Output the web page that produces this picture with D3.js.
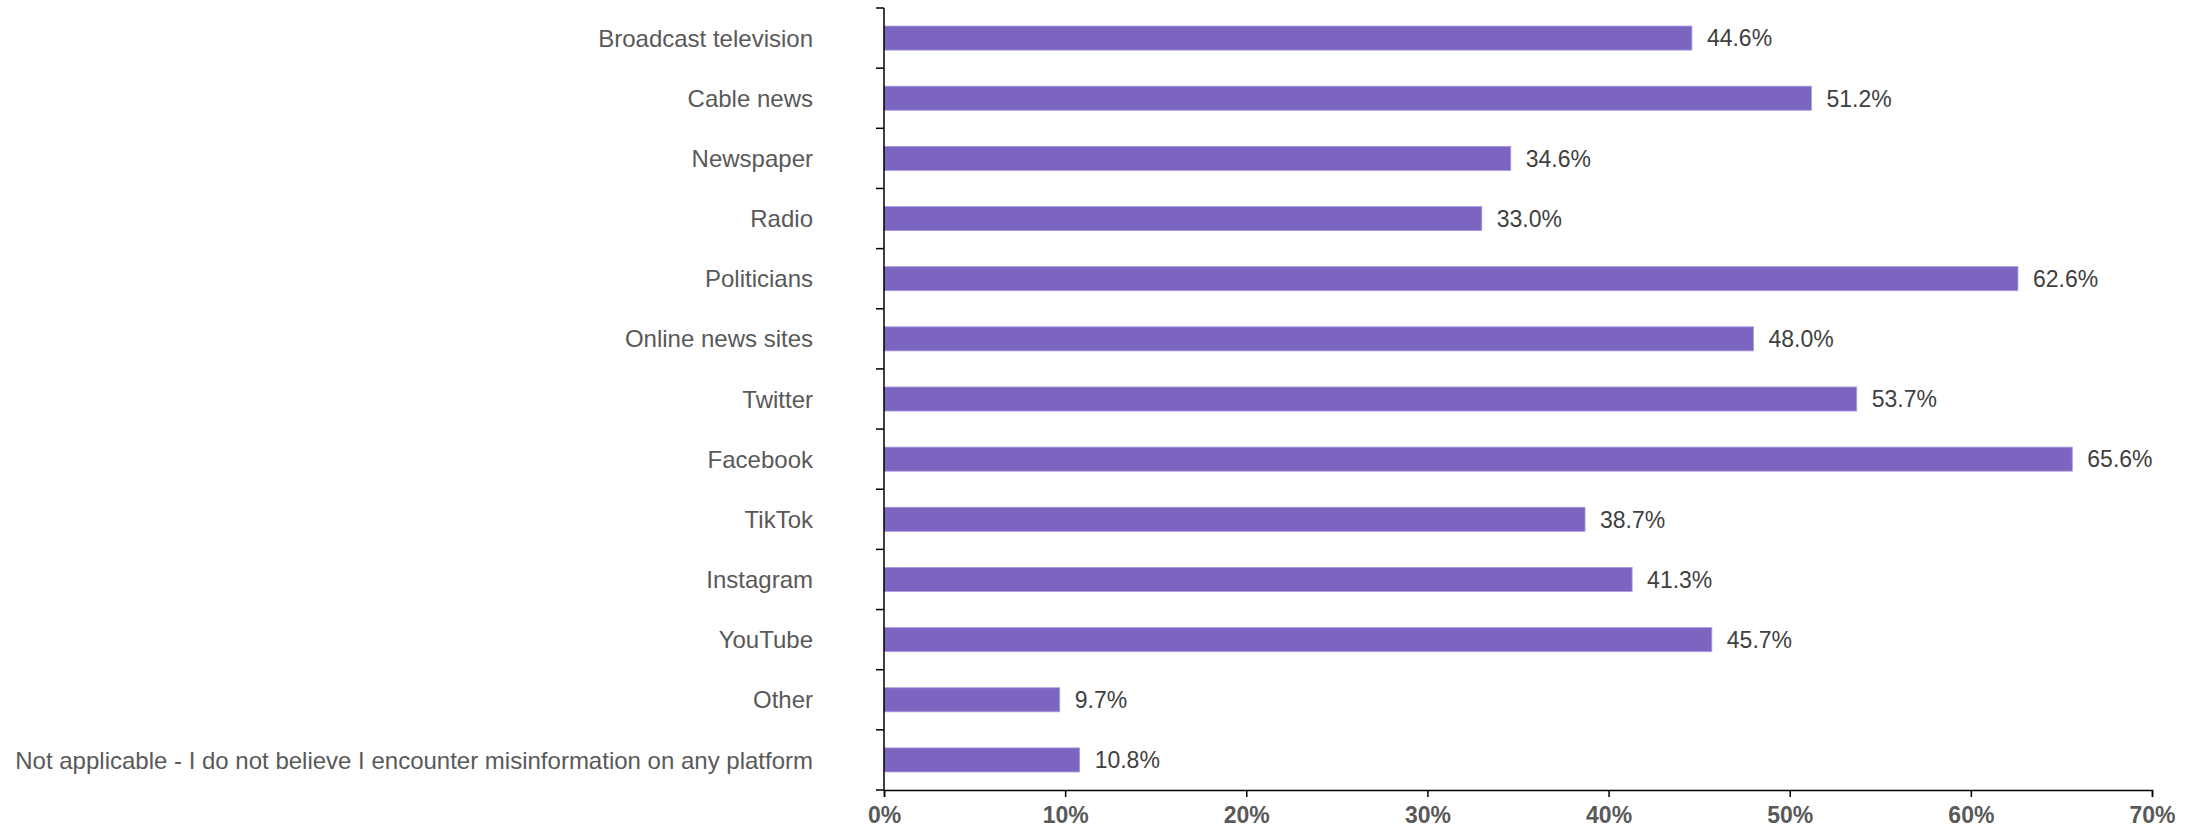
<!DOCTYPE html>
<html><head><meta charset="utf-8">
<script src="https://cdn.jsdelivr.net/npm/d3@7/dist/d3.min.js"></script>
<style>html,body{margin:0;padding:0;background:#fff;}svg{display:block;}</style>
</head><body>
<script>
const categories = ["Broadcast television","Cable news","Newspaper","Radio","Politicians","Online news sites","Twitter","Facebook","TikTok","Instagram","YouTube","Other","Not applicable - I do not believe I encounter misinformation on any platform"];
const values = [44.6,51.2,34.6,33.0,62.6,48.0,53.7,65.6,38.7,41.3,45.7,9.7,10.8];
const xTicks = [0,10,20,30,40,50,60,70];

(function(){
const W = 2198, H = 830;
const mLeft = 884, mRight = 2152, mTop = 8, mBottom = 790;
const svg = d3.select("body").append("svg").attr("width", W).attr("height", H);

const x = d3.scaleLinear().domain([0,70]).range([mLeft,mRight]);
const y = d3.scaleBand().domain(categories).range([mTop,mBottom]).paddingInner(0.6).paddingOuter(0.3);
const font = "'Liberation Sans', Arial, sans-serif";

svg.append("g").selectAll("rect").data(values).join("rect")
  .attr("x", x(0)).attr("y", (d,i)=>y(categories[i]))
  .attr("width", d=>x(d)-x(0)).attr("height", y.bandwidth())
  .attr("fill", "#7b65c0").attr("stroke","#a99ae0").attr("stroke-width",0.8);

svg.append("g").selectAll("text").data(values).join("text")
  .attr("x", d=>x(d)+15).attr("y", (d,i)=>y(categories[i])+y.bandwidth()/2)
  .attr("dy","0.36em").attr("font-family",font).attr("font-size",23).attr("fill","#404040")
  .text(d=>d.toFixed(1)+"%");

svg.append("g").selectAll("text").data(categories).join("text")
  .attr("x", 813).attr("y", d=>y(d)+y.bandwidth()/2)
  .attr("dy","0.36em").attr("text-anchor","end").attr("font-family",font).attr("font-size",24).attr("fill","#595959")
  .text(d=>d);

const step = (mBottom-mTop)/categories.length;
const yg = svg.append("g").attr("stroke","#000").attr("stroke-width",1.5);
yg.append("line").attr("x1",mLeft).attr("x2",mLeft).attr("y1",mTop).attr("y2",mBottom);
yg.selectAll("line.t").data(d3.range(categories.length+1)).join("line").attr("class","t")
  .attr("x1",mLeft-8).attr("x2",mLeft).attr("y1",i=>mTop+i*step).attr("y2",i=>mTop+i*step);

const xa = svg.append("g").attr("transform",`translate(0,${mBottom})`)
  .call(d3.axisBottom(x).tickValues(xTicks).tickSize(7).tickPadding(10).tickFormat(d=>d+"%"));
xa.select(".domain").attr("stroke","#000").attr("stroke-width",1.5);
xa.selectAll(".tick line").attr("stroke","#000").attr("stroke-width",1.5);
xa.selectAll(".tick text").attr("font-family",font).attr("font-size",23).attr("font-weight","bold").attr("fill","#595959");
})();
</script>
</body></html>
